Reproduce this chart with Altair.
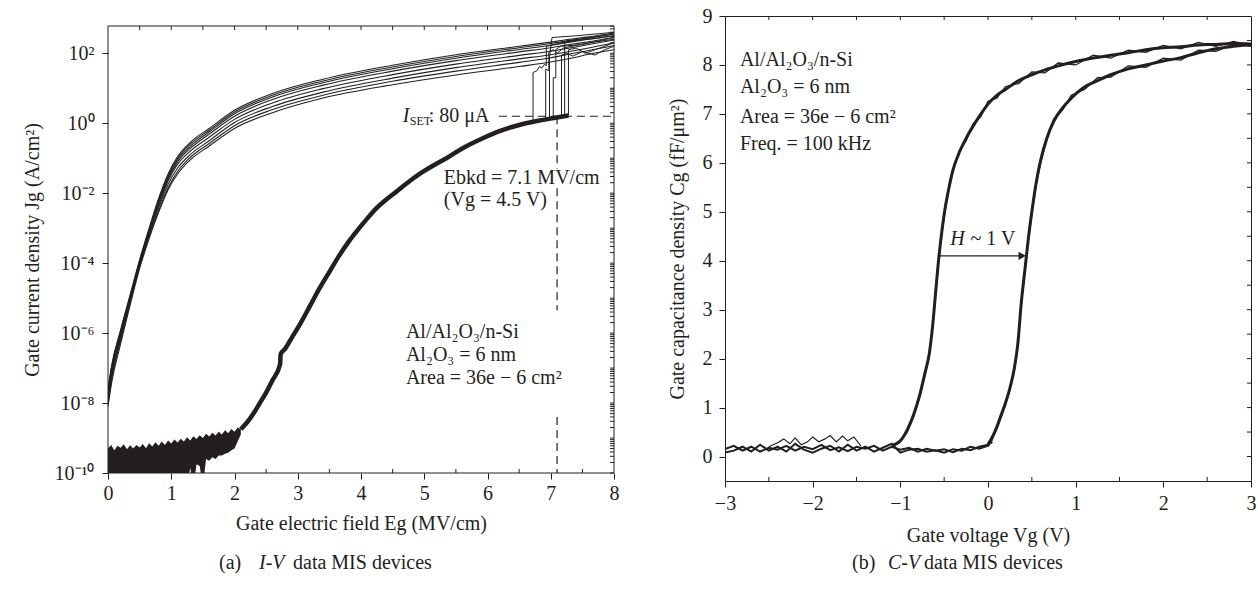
import altair as alt
import pandas as pd

FONT = "Liberation Serif"
INK = "#231f20"
FS = 20

# ---------------- panel (a): I-V data (log10 of J in A/cm^2) ----------------
iv_up_x = [0, 0.05, 0.2, 0.35, 0.5, 0.65, 0.8, 0.95, 1.1, 1.3, 1.6, 2.0, 2.6, 3.4, 4.5, 5.5, 6.5, 7.0, 7.3, 7.6, 8.0]
iv_up_logJ = [
    [-7.6, -7.0, -5.9, -4.9, -3.9, -3.0, -2.15, -1.45, -0.95, -0.55, -0.15, 0.37, 0.85, 1.26, 1.66, 1.96, 2.2, 2.32, 2.4, 2.47, 2.58],
    [-7.7, -7.05, -5.95, -4.95, -3.95, -3.05, -2.2, -1.5, -1.0, -0.6, -0.2, 0.32, 0.8, 1.21, 1.61, 1.91, 2.16, 2.28, 2.37, 2.43, 2.55],
    [-7.8, -7.1, -6.0, -4.98, -3.98, -3.08, -2.25, -1.55, -1.05, -0.66, -0.25, 0.27, 0.75, 1.16, 1.56, 1.86, 2.11, 2.23, 2.32, 2.4, 2.5],
    [-7.85, -7.2, -6.05, -5.0, -4.0, -3.12, -2.3, -1.6, -1.1, -0.72, -0.31, 0.2, 0.68, 1.09, 1.49, 1.79, 2.04, 2.16, 2.25, 2.33, 2.45],
    [-7.9, -7.25, -6.1, -5.05, -4.03, -3.15, -2.35, -1.65, -1.17, -0.8, -0.4, 0.11, 0.58, 0.99, 1.39, 1.69, 1.94, 2.06, 2.15, 2.25, 2.38],
    [-7.95, -7.3, -6.15, -5.08, -4.06, -3.2, -2.42, -1.75, -1.28, -0.9, -0.5, 0.02, 0.48, 0.89, 1.29, 1.59, 1.84, 1.96, 2.05, 2.15, 2.3],
    [-8.0, -7.4, -6.2, -5.12, -4.1, -3.25, -2.5, -1.85, -1.38, -0.98, -0.58, -0.07, 0.39, 0.8, 1.2, 1.49, 1.74, 1.87, 1.98, 2.08, 2.22],
    [-8.1, -7.5, -6.3, -5.2, -4.15, -3.3, -2.55, -1.9, -1.45, -1.05, -0.65, -0.15, 0.3, 0.72, 1.1, 1.38, 1.62, 1.75, 1.85, 1.97, 2.1],
]

iv_low_x = [2.1, 2.2, 2.3, 2.4, 2.5, 2.6, 2.72, 2.73, 2.8, 2.9, 3.05, 3.2, 3.35, 3.5, 3.65, 3.8, 3.95, 4.1,
            4.25, 4.4, 4.55, 4.75, 4.95, 5.15, 5.35, 5.6, 5.9, 6.2, 6.5, 6.8, 7.05, 7.28]
iv_low_logJ = [-8.75, -8.55, -8.3, -8.0, -7.7, -7.35, -6.9, -6.6, -6.45, -6.15, -5.7, -5.2, -4.7, -4.25, -3.8, -3.4,
               -3.05, -2.72, -2.42, -2.18, -1.97, -1.68, -1.42, -1.2, -1.0, -0.72, -0.45, -0.22, -0.05, 0.07, 0.15, 0.22]

iv_floor_x = [0.0, 0.05, 0.1, 0.15, 0.2, 0.25, 0.3, 0.35, 0.4, 0.45, 0.5, 0.55, 0.6, 0.65, 0.7, 0.75, 0.8, 0.85,
              0.9, 0.95, 1.0, 1.05, 1.1, 1.15, 1.2, 1.25, 1.3, 1.35, 1.4, 1.45, 1.5, 1.55, 1.6, 1.65, 1.7, 1.75,
              1.8, 1.85, 1.9, 1.95, 2.0, 2.05, 2.1]
iv_floor_top = [-9.3, -9.2, -9.35, -9.22, -9.28, -9.18, -9.32, -9.21, -9.3, -9.2, -9.27, -9.17, -9.29, -9.15,
                -9.24, -9.12, -9.22, -9.1, -9.2, -9.07, -9.16, -9.04, -9.13, -9.02, -9.1, -8.98, -9.07, -8.95,
                -9.03, -8.92, -9.0, -8.88, -8.96, -8.85, -8.93, -8.82, -8.9, -8.78, -8.86, -8.74, -8.82, -8.7, -8.75]
iv_floor_bot = [-10.4] * 26 + [-9.85, -10.4, -9.75, -9.8, -10.4, -9.6, -9.65, -9.55, -9.6, -9.5, -9.5, -9.45,
                               -9.42, -9.35, -9.3, -9.1, -8.9]

iv_breakdowns = [
    ([6.72, 6.72, 6.78, 6.82, 6.86, 6.9, 6.93, 6.93, 7.3, 7.7, 8.0],
     [0.08, 1.45, 1.5, 1.62, 1.58, 1.68, 1.65, 2.2, 2.35, 2.42, 2.5]),
    ([6.92, 6.92, 6.97, 6.97, 7.05, 7.1, 7.2, 7.6, 8.0],
     [0.12, 1.55, 1.5, 2.05, 2.1, 2.0, 2.15, 2.3, 2.4]),
    ([6.98, 6.98, 7.02, 7.4, 8.0], [0.14, 1.9, 2.45, 2.5, 2.6]),
    ([7.04, 7.04, 7.08, 7.08, 7.15, 7.5, 8.0], [0.15, 1.3, 1.3, 2.1, 2.2, 2.25, 2.45]),
    ([7.17, 7.17, 7.25, 7.35, 7.5, 7.7, 7.85, 8.0], [0.18, 1.95, 2.0, 1.92, 2.05, 1.95, 2.1, 2.2]),
    ([7.22, 7.22, 7.6, 8.0], [0.2, 2.3, 2.45, 2.55]),
    ([7.28, 7.28, 7.4, 7.55, 7.7, 8.0], [0.22, 2.1, 2.15, 2.0, 2.1, 2.3]),
]

iv_set_logJ = 0.2          # I_SET level
iv_set_x = [6.18, 8.0]
iv_ebkd = 7.1
iv_ebkd_segments = [(0.2, -1.3), (-1.86, -5.35), (-8.4, -10.0)]

iv_x_ticks = [0, 1, 2, 3, 4, 5, 6, 7, 8]
iv_y_ticks = [-10, -8, -6, -4, -2, 0, 2]
iv_sup = {-10: "10⁻¹⁰", -8: "10⁻⁸", -6: "10⁻⁶", -4: "10⁻⁴", -2: "10⁻²", 0: "10⁰", 2: "10²"}
iv_minor_bottom = [0.5, 1.5, 2.5, 3.5, 4.5, 5.5, 6.5, 7.5]
iv_minor_top = [0.5, 1, 1.5, 2, 2.5, 3, 3.5, 4, 4.5, 5, 5.5, 6, 6.5, 7, 7.5]

# ---------------- panel (b): C-V data ----------------
cv_flat_x = [-3.0, -2.9, -2.8, -2.7, -2.6, -2.5, -2.4, -2.3, -2.2, -2.1, -2.0, -1.9, -1.8, -1.7, -1.6, -1.5,
             -1.4, -1.3, -1.2, -1.1, -1.0, -0.9, -0.8, -0.7, -0.6, -0.5, -0.4, -0.3, -0.2, -0.1, 0.0, 0.05]
cv_flat_1 = [0.15, 0.22, 0.12, 0.2, 0.1, 0.18, 0.14, 0.22, 0.12, 0.2, 0.15, 0.24, 0.13, 0.19, 0.11, 0.2,
             0.16, 0.22, 0.12, 0.2, 0.14, 0.18, 0.1, 0.16, 0.12, 0.15, 0.09, 0.16, 0.13, 0.2, 0.24, 0.3]
cv_flat_2 = [0.08, 0.12, 0.2, 0.1, 0.24, 0.12, 0.2, 0.1, 0.26, 0.14, 0.08, 0.16, 0.22, 0.1, 0.24, 0.12,
             0.2, 0.1, 0.18, 0.26, 0.08, 0.14, 0.16, 0.1, 0.13, 0.08, 0.15, 0.12, 0.2, 0.16, 0.22, 0.36]
cv_bump_x = [-2.5, -2.4, -2.33, -2.26, -2.2, -2.13, -2.06, -2.0, -1.93, -1.86, -1.8, -1.73, -1.66, -1.6, -1.53, -1.45]
cv_bump_c = [0.2, 0.28, 0.36, 0.26, 0.38, 0.24, 0.3, 0.4, 0.3, 0.36, 0.43, 0.3, 0.42, 0.32, 0.4, 0.22]

cv_left_x = [-1.1, -1.0, -0.92, -0.85, -0.78, -0.72, -0.67, -0.63, -0.6, -0.57, -0.54, -0.5, -0.45, -0.4, -0.33,
             -0.25, -0.17, -0.08, 0.0, 0.1, 0.2, 0.35, 0.5, 0.65, 0.8, 1.0, 1.2, 1.4, 1.6, 1.8, 2.0, 2.2, 2.4,
             2.6, 2.8, 3.0]
cv_left_a = [0.22, 0.32, 0.55, 0.85, 1.25, 1.7, 2.1, 2.7, 3.3, 3.9, 4.4, 4.95, 5.45, 5.85, 6.2, 6.5, 6.75, 7.0,
             7.2, 7.38, 7.5, 7.68, 7.8, 7.9, 7.98, 8.07, 8.14, 8.2, 8.25, 8.31, 8.35, 8.37, 8.41, 8.42, 8.44, 8.43]
cv_left_b = [0.18, 0.3, 0.5, 0.8, 1.2, 1.65, 2.05, 2.65, 3.25, 3.85, 4.35, 4.9, 5.4, 5.82, 6.24, 6.45, 6.8, 6.95,
             7.26, 7.32, 7.56, 7.62, 7.86, 7.84, 8.04, 8.0, 8.2, 8.14, 8.3, 8.26, 8.4, 8.33, 8.46, 8.38, 8.48, 8.4]
cv_right_x = [0.0, 0.05, 0.1, 0.15, 0.2, 0.25, 0.3, 0.34, 0.38, 0.42, 0.46, 0.5, 0.55, 0.6, 0.67, 0.75, 0.85,
              0.95, 1.1, 1.25, 1.4, 1.6, 1.8, 2.0, 2.2, 2.4, 2.6, 2.8, 3.0]
cv_right_a = [0.25, 0.4, 0.6, 0.85, 1.1, 1.4, 1.8, 2.3, 3.15, 3.8, 4.45, 5.0, 5.6, 6.05, 6.5, 6.85, 7.12, 7.32,
              7.55, 7.68, 7.8, 7.92, 8.0, 8.08, 8.15, 8.25, 8.33, 8.38, 8.42]
cv_right_b = [0.2, 0.36, 0.56, 0.8, 1.05, 1.35, 1.75, 2.25, 3.1, 3.75, 4.4, 4.95, 5.55, 6.0, 6.45, 6.9, 7.08, 7.38,
              7.5, 7.74, 7.75, 7.98, 7.95, 8.14, 8.1, 8.3, 8.28, 8.42, 8.38]

cv_arrow_x = [-0.55, 0.36]
cv_arrow_head_x = 0.39
cv_arrow_c = 4.1

cv_x_ticks = [-3, -2, -1, 0, 1, 2, 3]
cv_y_ticks = [0, 1, 2, 3, 4, 5, 6, 7, 8, 9]
cv_minor_bottom = [-2.5, -1.5, -0.5, 0.5, 1.5, 2.5]
cv_minor_top = [-2.5, -2, -1.5, -1, -0.5, 0, 0.5, 1, 1.5, 2, 2.5]
cv_minor_right = [0, 0.5, 1, 1.5, 2, 2.5, 3, 3.5, 4, 4.5, 5, 5.5, 6, 6.5, 7, 7.5, 8, 8.5]

# ---------------- layout constants ----------------
W_A, H_A = 506, 457      # panel (a) view; its frame starts TOP_A px below the view top
TOP_A = 10
W_B, H_B = 526, 465

xa = alt.Scale(domain=[0, 8], nice=False, zero=False)
ya = alt.Scale(type="log", domain=[1e-10, 10 ** 2.78], nice=False, range=[H_A, TOP_A])
xb = alt.Scale(domain=[-3, 3], nice=False, zero=False)
yb = alt.Scale(domain=[-0.5, 9], nice=False, zero=False)

label_expr = " : ".join(f"round(log(datum.value)/LN10) == {k} ? '{s}'" for k, s in iv_sup.items()) + " : ''"

ax_a_x = alt.Axis(title="Gate electric field Eg (MV/cm)", values=iv_x_ticks, format="d",
                  tickSize=6, labelPadding=4, titlePadding=10)
ax_a_y = alt.Axis(title="Gate current density Jg (A/cm²)", values=[10.0 ** k for k in iv_y_ticks],
                  labelExpr=label_expr, tickSize=6, labelPadding=8, titlePadding=12)
ax_b_x = alt.Axis(title="Gate voltage Vg (V)", values=cv_x_ticks, format="d",
                  tickSize=6, labelPadding=6, titlePadding=12)
ax_b_y = alt.Axis(title="Gate capacitance density Cg (fF/μm²)", values=cv_y_ticks, format="d",
                  tickSize=6, labelPadding=7, titlePadding=15)

PANELS = {
    "a": (xa, ya, ax_a_x, ax_a_y),
    "b": (xb, yb, ax_b_x, ax_b_y),
}


def XE(p, field="x"):
    xs, ys, ax, ay = PANELS[p]
    return alt.X(f"{field}:Q", scale=xs, axis=ax)


def YE(p, field="y"):
    xs, ys, ax, ay = PANELS[p]
    return alt.Y(f"{field}:Q", scale=ys, axis=ay)


def path_df(xs, ys, curve=0, log=False):
    return pd.DataFrame({"x": xs, "y": [10 ** v for v in ys] if log else ys,
                         "c": curve, "i": list(range(len(xs)))})


def lines(df, p, width, **kw):
    return alt.Chart(df).mark_line(color=INK, strokeWidth=width, clip=True, **kw).encode(
        x=XE(p), y=YE(p), detail="c:N", order="i:Q")


def texts(rows, p, size=FS, **kw):
    return alt.Chart(pd.DataFrame(rows)).mark_text(
        font=FONT, fontSize=size, color=INK, align="left", baseline="middle", **kw).encode(
        x=XE(p), y=YE(p), text="t:N")


def caption(parts, y):
    out = []
    for px, t, style in parts:
        kw = {"fontStyle": "italic"} if style else {}
        out.append(alt.Chart(pd.DataFrame({"a": [0]})).mark_text(
            font=FONT, fontSize=FS, color=INK, align="left", baseline="middle", **kw).encode(
            x=alt.value(px), y=alt.value(y), text=alt.value(t)))
    return out


def vticks(vals, p, y0, y1):
    return alt.Chart(pd.DataFrame({"x": vals})).mark_rule(color=INK, strokeWidth=1).encode(
        x=XE(p), y=alt.value(y0), y2=alt.value(y1))


def hticks(vals, p, x0, x1):
    return alt.Chart(pd.DataFrame({"y": vals})).mark_rule(color=INK, strokeWidth=1).encode(
        y=YE(p), x=alt.value(x0), x2=alt.value(x1))


def frame_rule(x0, x1, y0, y1):
    return alt.Chart(pd.DataFrame({"a": [0]})).mark_rule(color=INK, strokeWidth=1).encode(
        x=alt.value(x0), x2=alt.value(x1), y=alt.value(y0), y2=alt.value(y1))


# ---------------- panel (a) layers ----------------
up_df = pd.concat([path_df(iv_up_x, c, k, log=True) for k, c in enumerate(iv_up_logJ)])
bk_df = pd.concat([path_df(bx, by, k, log=True) for k, (bx, by) in enumerate(iv_breakdowns)])
low_df = path_df(iv_low_x, iv_low_logJ, 0, log=True)
floor_df = pd.DataFrame({"x": iv_floor_x, "y": [10 ** v for v in iv_floor_top],
                         "y2": [10 ** v for v in iv_floor_bot]})

floor = alt.Chart(floor_df).mark_area(color=INK, clip=True).encode(x=XE("a"), y=YE("a"), y2="y2:Q")

hdash = alt.Chart(pd.DataFrame({"x": [iv_set_x[0]], "x2": [iv_set_x[1]], "y": [10 ** iv_set_logJ]})).mark_rule(
    color=INK, strokeDash=[8, 5], strokeWidth=1.2).encode(x=XE("a"), x2="x2:Q", y=YE("a"))
vdash = alt.Chart(pd.DataFrame({"x": [iv_ebkd] * len(iv_ebkd_segments),
                                "y": [10 ** a for a, b in iv_ebkd_segments],
                                "y2": [10 ** b for a, b in iv_ebkd_segments]})).mark_rule(
    color=INK, strokeDash=[8, 5], strokeWidth=1.2).encode(x=XE("a"), y=YE("a"), y2="y2:Q")

a_txt = texts([
    {"x": 5.31, "y": 10 ** -1.57, "t": "Ebkd = 7.1 MV/cm"},
    {"x": 5.31, "y": 10 ** -2.2, "t": "(Vg = 4.5 V)"},
    {"x": 4.71, "y": 10 ** -5.97, "t": "Al/Al₂O₃/n-Si"},
    {"x": 4.71, "y": 10 ** -6.63, "t": "Al₂O₃ = 6 nm"},
    {"x": 4.71, "y": 10 ** -7.29, "t": "Area = 36e − 6 cm²"},
    {"x": 5.07, "y": 10 ** 0.2, "t": ": 80 μA"},
], "a")
a_I = texts([{"x": 4.66, "y": 10 ** 0.2, "t": "I"}], "a", fontStyle="italic")
a_SET = texts([{"x": 4.77, "y": 10 ** 0.2, "t": "SET"}], "a", size=12, dy=5)

panel_a = alt.layer(
    lines(low_df, "a", 4.5, interpolate="monotone"),
    floor,
    lines(up_df, "a", 1.1, interpolate="monotone"),
    lines(bk_df, "a", 1.0),
    hdash, vdash,
    a_txt, a_I, a_SET,
    frame_rule(0, W_A, TOP_A, TOP_A),
    frame_rule(0, 0, TOP_A, H_A),
    frame_rule(W_A, W_A, TOP_A, H_A),
    frame_rule(0, W_A, H_A, H_A),
    vticks(iv_minor_bottom, "a", H_A, H_A - 4),
    vticks(iv_minor_top, "a", TOP_A, TOP_A + 4),
    hticks([k * 10.0 ** n for n in range(-10, 3) for k in range(1, 10) if k * 10.0 ** n < 10 ** 2.78],
           "a", W_A - 4, W_A),
    *caption([(111, "(a)", False), (151, "I-V", True), (185, "data MIS devices", False)], H_A + 90),
).properties(width=W_A, height=H_A, view=alt.ViewBackground(stroke="transparent"))

# ---------------- panel (b) layers ----------------
flat_df = pd.concat([path_df(cv_flat_x, cv_flat_1, 0), path_df(cv_flat_x, cv_flat_2, 1)])
bump_df = path_df(cv_bump_x, cv_bump_c, 0)
main_df = pd.concat([path_df(cv_left_x, cv_left_a, 0), path_df(cv_right_x, cv_right_a, 1)])
noisy_df = pd.concat([path_df(cv_left_x, cv_left_b, 0), path_df(cv_right_x, cv_right_b, 1)])

arrow = alt.Chart(pd.DataFrame({"x": [cv_arrow_x[0]], "x2": [cv_arrow_x[1]], "y": [cv_arrow_c]})).mark_rule(
    color=INK, strokeWidth=1.2).encode(x=XE("b"), x2="x2:Q", y=YE("b"))
head = alt.Chart(pd.DataFrame({"x": [cv_arrow_head_x], "y": [cv_arrow_c]})).mark_point(
    shape="triangle-right", size=70, filled=True, color=INK, opacity=1).encode(x=XE("b"), y=YE("b"))

b_txt = texts([
    {"x": -2.83, "y": 8.11, "t": "Al/Al₂O₃/n-Si"},
    {"x": -2.83, "y": 7.54, "t": "Al₂O₃ = 6 nm"},
    {"x": -2.83, "y": 6.93, "t": "Area = 36e − 6 cm²"},
    {"x": -2.83, "y": 6.38, "t": "Freq. = 100 kHz"},
    {"x": -0.2, "y": 4.45, "t": "~ 1 V"},
], "b")
b_H = texts([{"x": -0.43, "y": 4.45, "t": "H"}], "b", fontStyle="italic")

panel_b = alt.layer(
    lines(main_df, "b", 3, interpolate="monotone"),
    lines(flat_df, "b", 2.0),
    lines(bump_df, "b", 1.2),
    lines(noisy_df, "b", 1.3),
    arrow, head,
    b_txt, b_H,
    vticks(cv_minor_bottom, "b", H_B, H_B - 4),
    vticks(cv_minor_top, "b", 0, 4),
    hticks(cv_minor_right, "b", W_B - 4, W_B),
    *caption([(127, "(b)", False), (163, "C-V", True), (199, "data MIS devices", False)], H_B + 82),
).properties(width=W_B, height=H_B)

chart = alt.hconcat(panel_a, panel_b, spacing=46).properties(
    padding={"left": 21, "top": 5, "right": 0, "bottom": 0}
).configure_axis(
    labelFont=FONT, titleFont=FONT, labelFontSize=FS, titleFontSize=FS, titleFontWeight="normal",
    labelColor=INK, titleColor=INK, tickColor=INK, tickWidth=1, domain=False, grid=False,
    labelFlush=False, labelOverlap=False
).configure_view(stroke=INK, strokeWidth=1).configure_title(font=FONT, color=INK)

chart.save("out.html", embed_options={"renderer": "svg", "actions": False})
